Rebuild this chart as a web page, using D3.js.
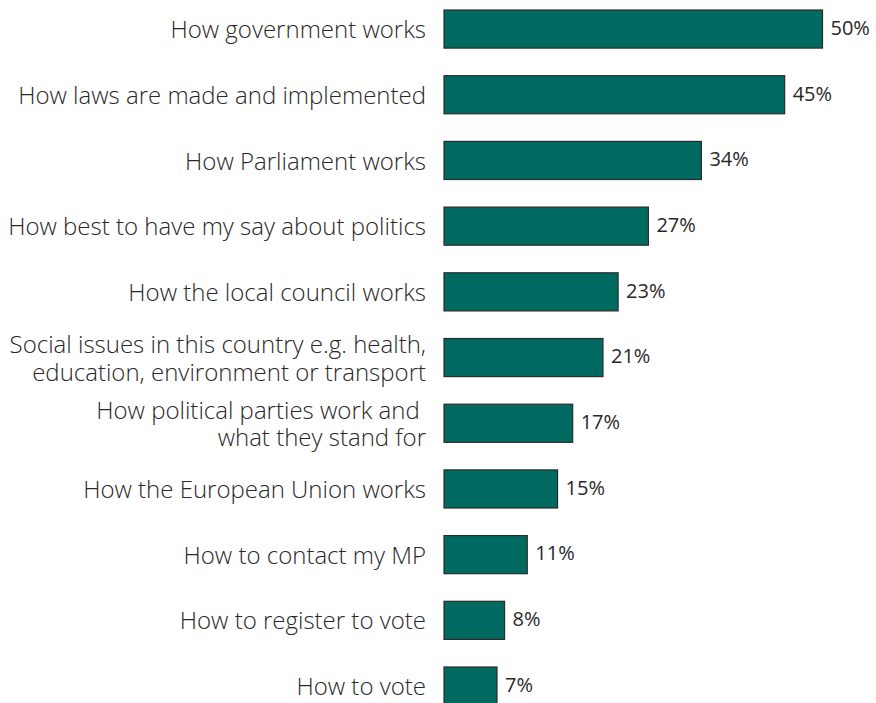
<!DOCTYPE html>
<html>
<head>
<meta charset="utf-8">
<script src="https://cdn.jsdelivr.net/npm/d3@7"></script>
<style>
  html, body { margin: 0; padding: 0; background: #ffffff; }
  svg { display: block; }
  text { font-family: "Open Sans", "Noto Sans", sans-serif; fill: #2a2728; }
</style>
</head>
<body>
<svg id="chart" width="876" height="703"></svg>
<script>
// Topics people say they would like to know more about (% of respondents)
const categories = [
  ["How government works"],
  ["How laws are made and implemented"],
  ["How Parliament works"],
  ["How best to have my say about politics"],
  ["How the local council works"],
  ["Social issues in this country e.g. health,", "education, environment or transport"],
  ["How political parties work and ", "what they stand for"],
  ["How the European Union works"],
  ["How to contact my MP"],
  ["How to register to vote"],
  ["How to vote"]
];
const values = [50, 45, 34, 27, 23, 21, 17, 15, 11, 8, 7];
const valueLabels = ["50%", "45%", "34%", "27%", "23%", "21%", "17%", "15%", "11%", "8%", "7%"];

const svg = d3.select("#chart");
const x0 = 444;
const step = 65.7;

const x = d3.scaleLinear().domain([0, 50]).range([x0, 822.5]);
const y = d3.scaleBand()
  .domain(d3.range(values.length))
  .range([-3.8, -3.8 + step * values.length])
  .paddingInner(0.42)
  .paddingOuter(0.21);

const rows = svg.selectAll("g.row")
  .data(values.map((v, i) => ({ v, i, lines: categories[i], label: valueLabels[i] })))
  .join("g")
  .attr("class", "row");

rows.append("rect")
  .attr("x", x(0))
  .attr("y", d => y(d.i))
  .attr("width", d => x(d.v) - x(0))
  .attr("height", y.bandwidth())
  .attr("fill", "#006a61")
  .attr("stroke", "#2b2b2b")
  .attr("stroke-width", 1.2);

rows.append("text")
  .attr("x", d => x(d.v) + 8)
  .attr("y", d => y(d.i) + y.bandwidth() / 2)
  .attr("dy", "0.29em")
  .attr("font-size", 20)
  .text(d => d.label);

// Category labels, right-aligned against the bars; wrapped labels stay centred on their bar
const lineH = 27.7;
rows.each(function(d) {
  const cy = y(d.i) + y.bandwidth() / 2;
  const n = d.lines.length;
  d.lines.forEach((ln, k) => {
    d3.select(this).append("text")
      .attr("text-anchor", "end")
      .attr("font-size", 24)
      .attr("font-weight", 300)
      .attr("x", x0 - 18)
      .attr("y", cy + (k - (n - 1) / 2) * lineH)
      .attr("dy", "0.38em")
      .style("white-space", "pre")
      .text(ln);
  });
});
</script>
</body>
</html>
